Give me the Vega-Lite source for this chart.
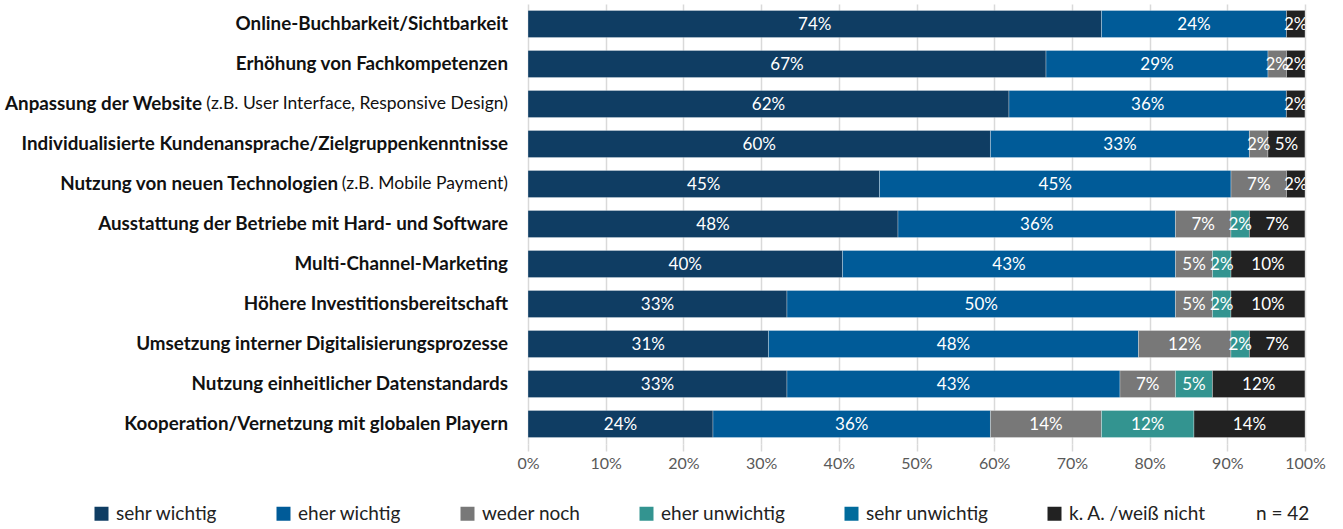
{
  "$schema": "https://vega.github.io/schema/vega-lite/v6.json",
  "width": 777,
  "height": 440,
  "autosize": "none",
  "padding": {"left": 528, "top": 4, "right": 38, "bottom": 85},
  "background": "white",
  "config": {"view": {"stroke": null}, "font": "Lato"},
  "datasets": {
    "bars": [
      {"item": "Online-Buchbarkeit/Sichtbarkeit", "cat": "sehr wichtig", "share": 0.7381},
      {"item": "Online-Buchbarkeit/Sichtbarkeit", "cat": "eher wichtig", "share": 0.2381},
      {"item": "Online-Buchbarkeit/Sichtbarkeit", "cat": "k. A. /weiß nicht", "share": 0.0238},
      {"item": "Erhöhung von Fachkompetenzen", "cat": "sehr wichtig", "share": 0.6667},
      {"item": "Erhöhung von Fachkompetenzen", "cat": "eher wichtig", "share": 0.2857},
      {"item": "Erhöhung von Fachkompetenzen", "cat": "weder noch", "share": 0.0238},
      {"item": "Erhöhung von Fachkompetenzen", "cat": "k. A. /weiß nicht", "share": 0.0238},
      {"item": "Anpassung der Website", "cat": "sehr wichtig", "share": 0.619},
      {"item": "Anpassung der Website", "cat": "eher wichtig", "share": 0.3571},
      {"item": "Anpassung der Website", "cat": "k. A. /weiß nicht", "share": 0.0238},
      {"item": "Individualisierte Kundenansprache/Zielgruppenkenntnisse", "cat": "sehr wichtig", "share": 0.5952},
      {"item": "Individualisierte Kundenansprache/Zielgruppenkenntnisse", "cat": "eher wichtig", "share": 0.3333},
      {"item": "Individualisierte Kundenansprache/Zielgruppenkenntnisse", "cat": "weder noch", "share": 0.0238},
      {"item": "Individualisierte Kundenansprache/Zielgruppenkenntnisse", "cat": "k. A. /weiß nicht", "share": 0.0476},
      {"item": "Nutzung von neuen Technologien", "cat": "sehr wichtig", "share": 0.4524},
      {"item": "Nutzung von neuen Technologien", "cat": "eher wichtig", "share": 0.4524},
      {"item": "Nutzung von neuen Technologien", "cat": "weder noch", "share": 0.0714},
      {"item": "Nutzung von neuen Technologien", "cat": "k. A. /weiß nicht", "share": 0.0238},
      {"item": "Ausstattung der Betriebe mit Hard- und Software", "cat": "sehr wichtig", "share": 0.4762},
      {"item": "Ausstattung der Betriebe mit Hard- und Software", "cat": "eher wichtig", "share": 0.3571},
      {"item": "Ausstattung der Betriebe mit Hard- und Software", "cat": "weder noch", "share": 0.0714},
      {"item": "Ausstattung der Betriebe mit Hard- und Software", "cat": "eher unwichtig", "share": 0.0238},
      {"item": "Ausstattung der Betriebe mit Hard- und Software", "cat": "k. A. /weiß nicht", "share": 0.0714},
      {"item": "Multi-Channel-Marketing", "cat": "sehr wichtig", "share": 0.4048},
      {"item": "Multi-Channel-Marketing", "cat": "eher wichtig", "share": 0.4286},
      {"item": "Multi-Channel-Marketing", "cat": "weder noch", "share": 0.0476},
      {"item": "Multi-Channel-Marketing", "cat": "eher unwichtig", "share": 0.0238},
      {"item": "Multi-Channel-Marketing", "cat": "k. A. /weiß nicht", "share": 0.0952},
      {"item": "Höhere Investitionsbereitschaft", "cat": "sehr wichtig", "share": 0.3333},
      {"item": "Höhere Investitionsbereitschaft", "cat": "eher wichtig", "share": 0.5},
      {"item": "Höhere Investitionsbereitschaft", "cat": "weder noch", "share": 0.0476},
      {"item": "Höhere Investitionsbereitschaft", "cat": "eher unwichtig", "share": 0.0238},
      {"item": "Höhere Investitionsbereitschaft", "cat": "k. A. /weiß nicht", "share": 0.0952},
      {"item": "Umsetzung interner Digitalisierungsprozesse", "cat": "sehr wichtig", "share": 0.3095},
      {"item": "Umsetzung interner Digitalisierungsprozesse", "cat": "eher wichtig", "share": 0.4762},
      {"item": "Umsetzung interner Digitalisierungsprozesse", "cat": "weder noch", "share": 0.119},
      {"item": "Umsetzung interner Digitalisierungsprozesse", "cat": "eher unwichtig", "share": 0.0238},
      {"item": "Umsetzung interner Digitalisierungsprozesse", "cat": "k. A. /weiß nicht", "share": 0.0714},
      {"item": "Nutzung einheitlicher Datenstandards", "cat": "sehr wichtig", "share": 0.3333},
      {"item": "Nutzung einheitlicher Datenstandards", "cat": "eher wichtig", "share": 0.4286},
      {"item": "Nutzung einheitlicher Datenstandards", "cat": "weder noch", "share": 0.0714},
      {"item": "Nutzung einheitlicher Datenstandards", "cat": "eher unwichtig", "share": 0.0476},
      {"item": "Nutzung einheitlicher Datenstandards", "cat": "k. A. /weiß nicht", "share": 0.119},
      {"item": "Kooperation/Vernetzung mit globalen Playern", "cat": "sehr wichtig", "share": 0.2381},
      {"item": "Kooperation/Vernetzung mit globalen Playern", "cat": "eher wichtig", "share": 0.3571},
      {"item": "Kooperation/Vernetzung mit globalen Playern", "cat": "weder noch", "share": 0.1429},
      {"item": "Kooperation/Vernetzung mit globalen Playern", "cat": "eher unwichtig", "share": 0.119},
      {"item": "Kooperation/Vernetzung mit globalen Playern", "cat": "k. A. /weiß nicht", "share": 0.1429}
    ],
    "labels": [
      {"item": "Online-Buchbarkeit/Sichtbarkeit", "suffix": ""},
      {"item": "Erhöhung von Fachkompetenzen", "suffix": ""},
      {"item": "Anpassung der Website", "suffix": "(z.B. User Interface, Responsive Design)"},
      {"item": "Individualisierte Kundenansprache/Zielgruppenkenntnisse", "suffix": ""},
      {"item": "Nutzung von neuen Technologien", "suffix": "(z.B. Mobile Payment)"},
      {"item": "Ausstattung der Betriebe mit Hard- und Software", "suffix": ""},
      {"item": "Multi-Channel-Marketing", "suffix": ""},
      {"item": "Höhere Investitionsbereitschaft", "suffix": ""},
      {"item": "Umsetzung interner Digitalisierungsprozesse", "suffix": ""},
      {"item": "Nutzung einheitlicher Datenstandards", "suffix": ""},
      {"item": "Kooperation/Vernetzung mit globalen Playern", "suffix": ""}
    ]
  },
  "encoding": {
    "y": {
      "field": "item",
      "type": "nominal",
      "scale": {
        "domain": [
          "Online-Buchbarkeit/Sichtbarkeit",
          "Erhöhung von Fachkompetenzen",
          "Anpassung der Website",
          "Individualisierte Kundenansprache/Zielgruppenkenntnisse",
          "Nutzung von neuen Technologien",
          "Ausstattung der Betriebe mit Hard- und Software",
          "Multi-Channel-Marketing",
          "Höhere Investitionsbereitschaft",
          "Umsetzung interner Digitalisierungsprozesse",
          "Nutzung einheitlicher Datenstandards",
          "Kooperation/Vernetzung mit globalen Playern"
        ],
        "paddingInner": 0.32,
        "paddingOuter": 0.16
      },
      "axis": null
    }
  },
  "layer": [
    {
      "data": {"name": "bars"},
      "transform": [
        {"stack": "share", "groupby": ["item"], "as": ["s0", "s1"]}
      ],
      "mark": {"type": "bar", "stroke": "#ffffff", "strokeWidth": 0.6, "strokeOpacity": 0.5},
      "encoding": {
        "x": {
          "field": "s0",
          "type": "quantitative",
          "scale": {"domain": [0, 1], "nice": false},
          "axis": {
            "format": ".0%",
            "values": [0, 0.1, 0.2, 0.3, 0.4, 0.5, 0.6, 0.7, 0.8, 0.9, 1],
            "grid": true,
            "gridColor": "#d9d9d9",
            "gridWidth": 1.5,
            "domain": false,
            "ticks": true,
            "tickColor": "#d9d9d9",
            "tickSize": 7,
            "tickWidth": 1.5,
            "labelFlush": false,
            "labelOverlap": false,
            "labelPadding": 4,
            "labelFontSize": 16,
            "labelColor": "#595959",
            "labelFont": "Lato",
            "title": null
          }
        },
        "x2": {"field": "s1"},
        "color": {
          "field": "cat",
          "type": "nominal",
          "scale": {
            "domain": ["sehr wichtig", "eher wichtig", "weder noch", "eher unwichtig", "sehr unwichtig", "k. A. /weiß nicht"],
            "range": ["#0f3d63", "#005b98", "#787878", "#339490", "#006b9c", "#222222"]
          },
          "legend": {
            "orient": "none",
            "legendX": -436,
            "legendY": 500,
            "direction": "horizontal",
            "columnPadding": 56,
            "symbolType": "square",
            "symbolSize": 196,
            "symbolStrokeWidth": 0,
            "symbolOpacity": 1,
            "labelFontSize": 19,
            "labelColor": "#222222",
            "labelFont": "Lato",
            "labelOffset": 5,
            "title": "n = 42",
            "titleOrient": "right",
            "titleFontSize": 19,
            "titleFontWeight": "normal",
            "titleColor": "#222222",
            "titleFont": "Lato",
            "titlePadding": 50,
            "encode": {
              "symbols": {
                "update": {
                  "fill": {"signal": "({'sehr wichtig': '#0e4a7b', 'eher wichtig': '#0072c0', 'weder noch': '#7b858d', 'eher unwichtig': '#3a9994', 'sehr unwichtig': '#006b99', 'k. A. /weiß nicht': '#000000'})[datum.value]"}
                }
              }
            }
          }
        }
      }
    },
    {
      "data": {"name": "bars"},
      "transform": [
        {"stack": "share", "groupby": ["item"], "as": ["s0", "s1"]},
        {"calculate": "(datum.s0 + datum.s1) / 2", "as": "mid"}
      ],
      "mark": {"type": "text", "color": "white", "fontSize": 17, "font": "Lato", "clip": true, "baseline": "middle", "dy": 1},
      "encoding": {
        "x": {"field": "mid", "type": "quantitative"},
        "text": {"field": "share", "type": "quantitative", "format": ".0%"}
      }
    },
    {
      "data": {"name": "labels"},
      "transform": [{"filter": "datum.suffix == ''"}],
      "mark": {"type": "text", "align": "right", "baseline": "middle", "dx": -20, "fontSize": 18.8, "fontWeight": "bold", "font": "Lato", "color": "#111111"},
      "encoding": {
        "x": {"datum": 0, "type": "quantitative"},
        "text": {"field": "item"}
      }
    },
    {
      "data": {"name": "labels"},
      "transform": [{"filter": "datum.suffix != ''"}],
      "mark": {"type": "text", "align": "right", "baseline": "middle", "dx": -20, "fontSize": 17.5, "font": "Lato", "color": "#111111"},
      "encoding": {
        "x": {"datum": 0, "type": "quantitative"},
        "text": {"field": "suffix"}
      }
    },
    {
      "data": {"name": "labels"},
      "transform": [{"filter": "datum.item == 'Anpassung der Website'"}],
      "mark": {"type": "text", "align": "right", "baseline": "middle", "dx": -326, "fontSize": 18.8, "fontWeight": "bold", "font": "Lato", "color": "#111111"},
      "encoding": {
        "x": {"datum": 0, "type": "quantitative"},
        "text": {"field": "item"}
      }
    },
    {
      "data": {"name": "labels"},
      "transform": [{"filter": "datum.item == 'Nutzung von neuen Technologien'"}],
      "mark": {"type": "text", "align": "right", "baseline": "middle", "dx": -190, "fontSize": 18.8, "fontWeight": "bold", "font": "Lato", "color": "#111111"},
      "encoding": {
        "x": {"datum": 0, "type": "quantitative"},
        "text": {"field": "item"}
      }
    }
  ]
}
